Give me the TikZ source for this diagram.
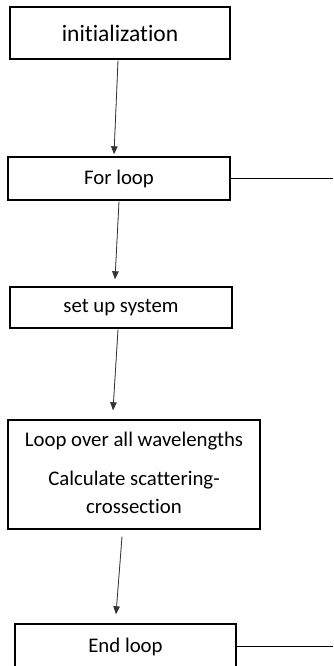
\documentclass[tikz,border=0pt]{standalone}
\usepackage{fontspec}
\setmainfont{Carlito}[Ligatures=NoCommon]
\usetikzlibrary{arrows.meta}

\begin{document}
\begin{tikzpicture}[x=1pt,y=1pt,>={Triangle[length=8pt,width=6.5pt]},
  box/.style={draw,line width=1.4pt,inner sep=0pt,align=center,
    font=\fontsize{20.8}{28}\selectfont},
  arr/.style={->,line width=0.8pt,draw=black!80,fill=black}]
  \useasboundingbox (0,0) rectangle (333,666);
  % boxes of the flow chart
  \node[box,minimum width=220pt,minimum height=52pt,
    font=\fontsize{23.5}{28}\selectfont] (init) at (120,633) {initialization};
  \node[box,minimum width=222pt,minimum height=43pt] (forloop) at (119,487.5) {For loop};
  \node[box,minimum width=222pt,minimum height=41pt] (setup) at (121,358.5) {set up system};
  \node[box,minimum width=252pt,minimum height=109pt] (wavelengths) at (134,191.5)
    {Loop over all wavelengths\\[11pt]Calculate scattering-\\crossection\vphantom{g}};
  \node[box,minimum width=221pt,minimum height=46pt] (endloop) at (125.5,19) {End loop};
  % loose ends on the right
  \coordinate (forout) at (333,487.5);
  \coordinate (endout) at (333,20);
  % connectors
  \draw[arr] ([xshift=-2pt,yshift=-1pt]init.south) -- ([xshift=-5pt,yshift=2pt]forloop.north);
  \draw[arr] ([yshift=-1pt]forloop.south) -- ([xshift=-6pt,yshift=7pt]setup.north);
  \draw[arr] ([xshift=-3pt,yshift=-1pt]setup.south) -- ([xshift=-21pt,yshift=9pt]wavelengths.north);
  \draw[arr] ([xshift=-12pt,yshift=-7pt]wavelengths.south) -- ([xshift=-9.5pt,yshift=9pt]endloop.north);
  \draw[line width=0.8pt] (forloop.east) -- (forout);
  \draw[line width=0.8pt] (endloop.east |- endout) -- (endout);
\end{tikzpicture}
\end{document}
